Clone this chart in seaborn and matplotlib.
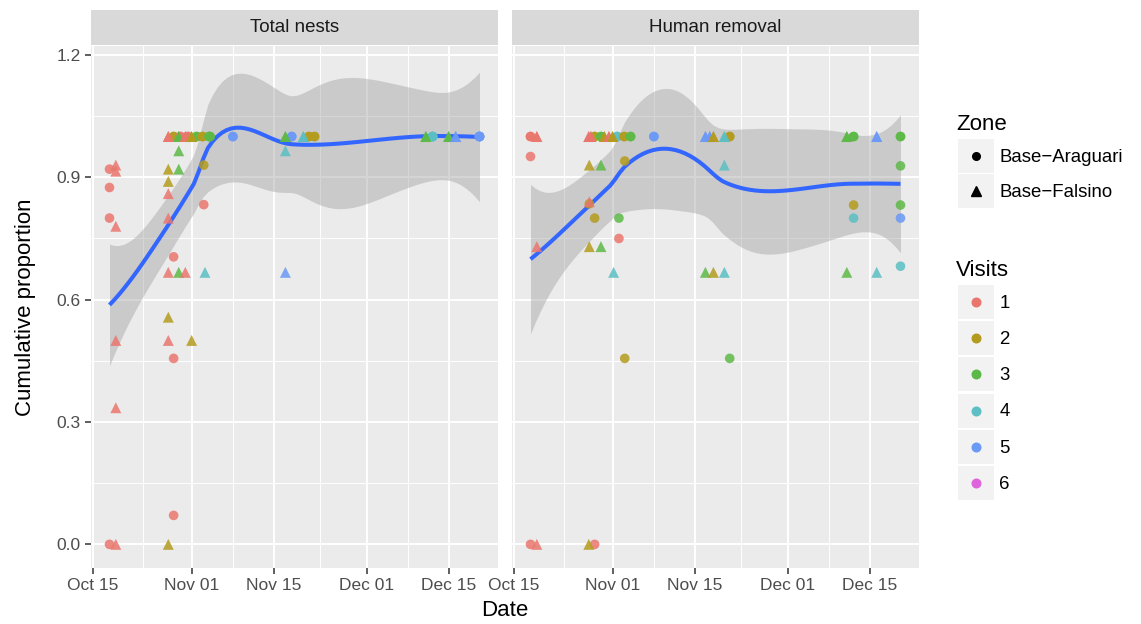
import numpy as np
import pandas as pd
import matplotlib
matplotlib.use("Agg")
import matplotlib.pyplot as plt
import matplotlib.dates as mdates
import seaborn as sns
from matplotlib.patches import Rectangle
from matplotlib.lines import Line2D
from matplotlib.legend_handler import HandlerTuple, HandlerLine2D

plt.rcParams['font.family'] = ['Liberation Sans', 'DejaVu Sans']

# ---------------- data ----------------
panel_titles = ["Total nests", "Human removal"]
zone_names = {"A": "Base\u2212Araguari", "F": "Base\u2212Falsino"}
zone_order = ["A", "F"]
visit_levels = ["1", "2", "3", "4", "5", "6"]
visit_colors = ["#E9766D", "#B49B1E", "#5DB947", "#5BBFC4", "#6B99F6", "#DE64DC"]
year = "2016"
tick_dates = ["10-15", "11-01", "11-15", "12-01", "12-15"]
y_ticks = [0.0, 0.3, 0.6, 0.9, 1.2]

# Total nests (tot_n = nests sharing the exact same point)
tot_date = ["10-17 20:00", "10-18 22:00", "10-18 22:00", "10-17 20:00", "10-17 20:00",
            "10-18 22:00", "10-18 22:00", "10-18 22:00", "10-17 20:00", "10-18 22:00",
            "10-27 22:00", "10-28 20:00", "10-29 17:00", "10-30 00:00", "10-30 20:00",
            "10-31 07:00", "10-31 22:00", "11-01 19:00", "11-02 19:00", "11-03 22:00",
            "11-04 02:00", "11-08 00:00", "10-29 17:00", "10-27 22:00", "10-29 17:00",
            "11-03 00:00", "10-27 22:00", "10-27 22:00", "11-03 00:00", "10-27 22:00",
            "10-28 20:00", "10-27 22:00", "10-29 17:00", "10-30 20:00", "11-03 05:00",
            "11-17 00:00", "10-27 22:00", "10-27 22:00", "10-31 22:00", "10-28 20:00",
            "10-28 20:00", "10-27 22:00", "11-17 00:00", "11-18 02:00", "11-17 00:00",
            "11-20 02:00", "11-21 01:00", "11-22 00:00", "12-11 02:00", "12-12 06:00",
            "12-15 00:00", "12-16 05:00", "12-20 07:00"]
tot_prop = [0.92, 0.93, 0.915, 0.875, 0.80,
            0.78, 0.50, 0.335, 0.0, 0.0,
            1.0, 1.0, 1.0, 1.0, 1.0,
            1.0, 1.0, 1.0, 1.0, 1.0,
            1.0, 1.0, 0.965, 0.92, 0.92,
            0.93, 0.89, 0.86, 0.833, 0.80,
            0.705, 0.667, 0.667, 0.667, 0.667,
            0.667, 0.557, 0.50, 0.50, 0.456,
            0.071, 0.0, 1.0, 1.0, 0.965,
            1.0, 1.0, 1.0, 1.0, 1.0,
            1.0, 1.0, 1.0]
tot_zone = ["A", "F", "F", "A", "A",
            "F", "F", "F", "A", "F",
            "F", "A", "F", "A", "F",
            "A", "F", "A", "A", "A",
            "A", "A", "F", "F", "F",
            "A", "F", "F", "A", "F",
            "A", "F", "F", "F", "F",
            "F", "F", "F", "F", "A",
            "A", "F", "F", "A", "F",
            "F", "A", "A", "F", "A",
            "F", "F", "A"]
tot_visit = [1, 1, 1, 1, 1,
             1, 1, 1, 1, 1,
             1, 2, 3, 1, 1,
             1, 2, 3, 2, 3,
             3, 5, 3, 2, 3,
             2, 2, 1, 1, 1,
             1, 1, 3, 1, 4,
             5, 2, 1, 2, 1,
             1, 2, 3, 5, 4,
             4, 2, 2, 3, 4,
             3, 5, 5]
tot_n = [1, 1, 1, 1, 1,
         1, 1, 1, 1, 1,
         2, 2, 2, 2, 2,
         2, 2, 2, 2, 2,
         2, 2, 1, 1, 1,
         1, 1, 1, 1, 1,
         1, 1, 1, 1, 1,
         1, 1, 1, 1, 1,
         1, 1, 2, 2, 1,
         2, 2, 2, 2, 4,
         2, 2, 5]

# Human removal
hum_date = ["10-17 20:00", "10-18 22:00", "10-17 20:00", "10-18 22:00", "10-17 20:00",
            "10-18 22:00", "10-27 20:00", "10-28 05:00", "10-28 20:00", "10-29 22:00",
            "10-30 12:00", "10-31 07:00", "10-31 22:00", "11-01 17:00", "11-02 22:00",
            "11-04 00:00", "11-08 00:00", "10-27 22:00", "10-29 22:00", "11-03 00:00",
            "10-27 22:00", "10-27 22:00", "10-28 20:00", "11-02 00:00", "11-02 00:00",
            "10-27 22:00", "10-29 22:00", "11-01 02:00", "11-03 00:00", "10-27 20:00",
            "10-28 20:00", "11-16 20:00", "11-17 14:00", "11-18 05:00", "11-20 02:00",
            "11-21 00:00", "11-20 02:00", "11-16 20:00", "11-18 05:00", "11-20 02:00",
            "11-21 00:00", "12-11 02:00", "12-12 06:00", "12-16 05:00", "12-20 07:00",
            "12-20 07:00", "12-12 06:00", "12-20 07:00", "12-12 06:00", "12-20 07:00",
            "12-11 02:00", "12-16 05:00", "12-20 07:00"]
hum_prop = [1.0, 1.0, 0.951, 0.73, 0.0,
            0.0, 1.0, 1.0, 1.0, 1.0,
            1.0, 1.0, 1.0, 1.0, 1.0,
            1.0, 1.0, 0.93, 0.93, 0.94,
            0.84, 0.835, 0.80, 0.80, 0.75,
            0.73, 0.73, 0.667, 0.456, 0.0,
            0.0, 1.0, 1.0, 1.0, 1.0,
            1.0, 0.93, 0.667, 0.667, 0.667,
            0.456, 1.0, 1.0, 1.0, 1.0,
            0.928, 0.832, 0.832, 0.80, 0.80,
            0.667, 0.667, 0.682]
hum_zone = ["A", "F", "A", "F", "A",
            "F", "F", "F", "A", "A",
            "F", "F", "F", "A", "A",
            "A", "A", "F", "F", "A",
            "F", "A", "A", "A", "A",
            "F", "F", "F", "A", "F",
            "A", "F", "F", "F", "F",
            "A", "F", "F", "F", "F",
            "A", "F", "A", "F", "A",
            "A", "A", "A", "A", "A",
            "F", "F", "A"]
hum_visit = [1, 1, 1, 1, 1,
             1, 1, 1, 2, 3,
             2, 1, 2, 4, 2,
             3, 5, 2, 3, 2,
             1, 2, 2, 3, 1,
             2, 3, 4, 2, 2,
             1, 5, 5, 2, 4,
             2, 4, 3, 2, 4,
             3, 3, 3, 5, 3,
             3, 2, 3, 4, 5,
             3, 4, 4]
hum_n = [2, 2, 1, 1, 1,
         1, 2, 2, 2, 2,
         2, 2, 2, 2, 2,
         2, 2, 1, 1, 1,
         1, 1, 1, 1, 1,
         1, 1, 1, 1, 1,
         1, 2, 2, 2, 2,
         2, 1, 1, 1, 1,
         1, 2, 2, 2, 2,
         1, 1, 1, 1, 1,
         1, 1, 1]


def make_df(dates, prop, zone, visit, count):
    df = pd.DataFrame({
        "date": pd.to_datetime([f"{year}-{d}" for d in dates]),
        "prop": prop,
        "zone": zone,
        "visit": [str(v) for v in visit],
    })
    return df.loc[df.index.repeat(count)].reset_index(drop=True)


frames = [make_df(tot_date, tot_prop, tot_zone, tot_visit, tot_n),
          make_df(hum_date, hum_prop, hum_zone, hum_visit, hum_n)]


# ---------------- loess as in R (span .75, degree 2, kd-tree interpolation) ----------------
def t975(df):
    z = 1.959964
    return (z + (z**3 + z) / 4 / df + (5 * z**5 + 16 * z**3 + 3 * z) / 96 / df**2
            + (3 * z**7 + 19 * z**5 + 17 * z**3 - 15 * z) / 384 / df**3)


def local_rows(x, x0, q):
    n = len(x)
    d = np.abs(x - x0)
    h = np.sort(d)[q - 1]
    u = d / h
    w = np.where(u < 1, (1 - u**3) ** 3, 0.0)
    X = np.column_stack([np.ones(n), x - x0, (x - x0) ** 2])
    XtW = X.T * w
    B = np.linalg.solve(XtW @ X, XtW)
    return B[0], B[1]


def loess(x, y, xnew, span=0.75, cell=0.2):
    x = np.asarray(x, float)
    y = np.asarray(y, float)
    n = len(x)
    q = int(np.floor(n * span))
    fc = int(np.floor(n * span * cell))
    xs = np.sort(x)
    mu = 0.005 * (xs[-1] - xs[0])
    a0, b0 = xs[0] - mu, xs[-1] + mu
    verts = [a0, b0]
    stack = [(0, n - 1, a0, b0)]
    while stack:
        l, u, a, b = stack.pop()
        if u - l + 1 <= fc:
            continue
        m = (l + u) // 2
        while m >= 1 and xs[m - 1] == xs[m]:
            m -= 1
        t = xs[m]
        if t == a or t == b:
            continue
        verts.append(t)
        stack.append((l, m, a, t))
        stack.append((m + 1, u, t, b))
    verts = np.array(sorted(set(verts)))
    V0, V1 = [], []
    for v in verts:
        r0, r1 = local_rows(x, v, q)
        V0.append(r0)
        V1.append(r1)
    V0 = np.array(V0)
    V1 = np.array(V1)

    def interp_rows(pts):
        out = []
        for p in pts:
            i = min(max(np.searchsorted(verts, p) - 1, 0), len(verts) - 2)
            h = verts[i + 1] - verts[i]
            t = (p - verts[i]) / h
            phi0 = (1 - t) ** 2 * (1 + 2 * t)
            phi1 = t**2 * (3 - 2 * t)
            psi0 = t * (1 - t) ** 2
            psi1 = -t**2 * (1 - t)
            out.append(phi0 * V0[i] + phi1 * V0[i + 1] + (psi0 * V1[i] + psi1 * V1[i + 1]) * h)
        return np.array(out)

    L = interp_rows(x)
    Ln = interp_rows(xnew)
    fit = Ln @ y
    IL = np.eye(n) - L
    M = IL.T @ IL
    d1 = np.trace(M)
    d2 = np.trace(M @ M)
    res = y - L @ y
    s = np.sqrt(np.sum(res**2) / d1)
    se = s * np.sqrt(np.sum(Ln**2, axis=1))
    tq = t975(d1**2 / d2)
    return fit, fit - tq * se, fit + tq * se


# ---------------- figure ----------------
W, H = 1141, 624
fig = plt.figure(figsize=(W / 100, H / 100), dpi=100)
fig.patch.set_facecolor("white")

pan_left = [91 / W, 512 / W]
pan_w = 407 / W
pan_bottom = 1 - 568 / H
pan_h = (568 - 46) / H
strip_bottom = 1 - 45 / H
strip_h = 35 / H

palette = dict(zip(visit_levels, visit_colors))
zone_marker = {"A": "o", "F": "^"}
zone_size = {"A": 48, "F": 62}

all_dates = pd.concat([f["date"] for f in frames])
xmin_num = mdates.date2num(all_dates.min())
xmax_num = mdates.date2num(all_dates.max())
xr = xmax_num - xmin_num
xlim = (xmin_num - 0.05 * xr, xmax_num + 0.05 * xr)

major_dates = [mdates.date2num(pd.Timestamp(f"{year}-{d}")) for d in tick_dates]
minor_dates = [(a + b) / 2 for a, b in zip(major_dates[:-1], major_dates[1:])]

for i, df in enumerate(frames):
    ax = fig.add_axes([pan_left[i], pan_bottom, pan_w, pan_h])
    ax.set_facecolor("#EBEBEB")
    for s in ax.spines.values():
        s.set_visible(False)

    # smooth (loess with 95% band)
    xnum = mdates.date2num(df["date"])
    x0 = xnum.min()
    xs = np.linspace(xnum.min(), xnum.max(), 80)
    fit, lo, hi = loess(xnum - x0, df["prop"].values, xs - x0)
    xs_dt = mdates.num2date(xs)
    ax.fill_between(xs_dt, lo, hi, color="#999999", alpha=0.4, lw=0, zorder=2)
    ax.plot(xs_dt, fit, color="#3366FF", lw=2.9, zorder=2.5, solid_capstyle="butt")

    # points
    for z in zone_order:
        sub = df[df["zone"] == z]
        sns.scatterplot(data=sub, x="date", y="prop", hue="visit",
                        hue_order=visit_levels, palette=palette,
                        marker=zone_marker[z], s=zone_size[z], alpha=0.85,
                        linewidth=0, legend=False, ax=ax, zorder=3)

    ax.set_xlim(xlim)
    ax.set_ylim(-0.058, 1.222)
    ax.set_xticks(major_dates)
    ax.set_xticks(minor_dates, minor=True)
    ax.set_xticklabels([pd.Timestamp(f"{year}-{d}").strftime("%b %d") for d in tick_dates])
    ax.set_yticks(y_ticks)
    ax.set_yticks([0.15, 0.45, 0.75, 1.05], minor=True)
    ax.set_yticklabels([f"{v:.1f}" for v in y_ticks])
    ax.grid(which="major", color="white", lw=1.4)
    ax.grid(which="minor", color="white", lw=0.7)
    ax.set_axisbelow(True)
    ax.tick_params(axis="both", which="major", length=4.5, width=1.1, color="#333333",
                   labelsize=12.5, labelcolor="#4D4D4D", pad=3)
    ax.tick_params(axis="both", which="minor", length=0)
    ax.set_xlabel("")
    ax.set_ylabel("")
    if i == 1:
        ax.tick_params(axis="y", which="both", left=False, labelleft=False)

    sax = fig.add_axes([pan_left[i], strip_bottom, pan_w, strip_h])
    sax.set_facecolor("#D9D9D9")
    sax.set_xticks([])
    sax.set_yticks([])
    for s in sax.spines.values():
        s.set_visible(False)
    sax.text(0.5, 0.5, panel_titles[i], ha="center", va="center",
             fontsize=13.5, color="#1A1A1A", transform=sax.transAxes)

fig.text((91 + 919) / 2 / W, 1 - 611 / H, "Date", ha="center", va="center",
         fontsize=16, color="black")
fig.text(26 / W, 1 - 307 / H, "Cumulative proportion", ha="center", va="center",
         rotation=90, fontsize=16, color="black")


# ---------------- legends ----------------
class CenteredMarker(HandlerLine2D):
    def create_artists(self, legend, orig_handle, xdescent, ydescent, width, height,
                       fontsize, trans):
        m = Line2D([width / 2 - xdescent], [height / 2 - ydescent], ls="",
                   marker=orig_handle.get_marker(), color=orig_handle.get_color(),
                   markersize=orig_handle.get_markersize())
        m.set_transform(trans)
        return [m]


key_bg = "#F2F2F2"
fs_lab = 13.4
fs_px = fs_lab * 100 / 72
hl = 36 / fs_px
hh = (34 / fs_px - 0.245) / 0.65
hmap = {tuple: HandlerTuple(ndivide=1, pad=0), Line2D: CenteredMarker()}

fig.text(956 / W, 1 - 129.5 / H, "Zone", ha="left", va="baseline", fontsize=16, color="black")
fig.text(956 / W, 1 - 275.5 / H, "Visits", ha="left", va="baseline", fontsize=16, color="black")

zone_handles = [(Rectangle((0, 0), 1, 1, fc=key_bg, ec="none"),
                 Line2D([], [], ls="", marker=zone_marker[z], color="black",
                        markersize=5.5 if z == "A" else 6.5))
                for z in zone_order]
fig.legend(zone_handles, [zone_names[z] for z in zone_order], handler_map=hmap,
           loc="upper left", bbox_to_anchor=(957.5 / W, 1 - 139 / H),
           frameon=False, fontsize=fs_lab,
           handlelength=hl, handleheight=hh,
           labelspacing=0.05, handletextpad=0.32, borderpad=0, borderaxespad=0)

visit_handles = [(Rectangle((0, 0), 1, 1, fc=key_bg, ec="none"),
                  Line2D([], [], ls="", marker="o", color=c, markersize=6.2))
                 for c in visit_colors]
fig.legend(visit_handles, visit_levels, handler_map=hmap,
           loc="upper left", bbox_to_anchor=(957.5 / W, 1 - 285 / H),
           frameon=False, fontsize=fs_lab,
           handlelength=hl, handleheight=hh,
           labelspacing=0.12, handletextpad=0.32, borderpad=0, borderaxespad=0)

fig.savefig("out.png", dpi=100)
